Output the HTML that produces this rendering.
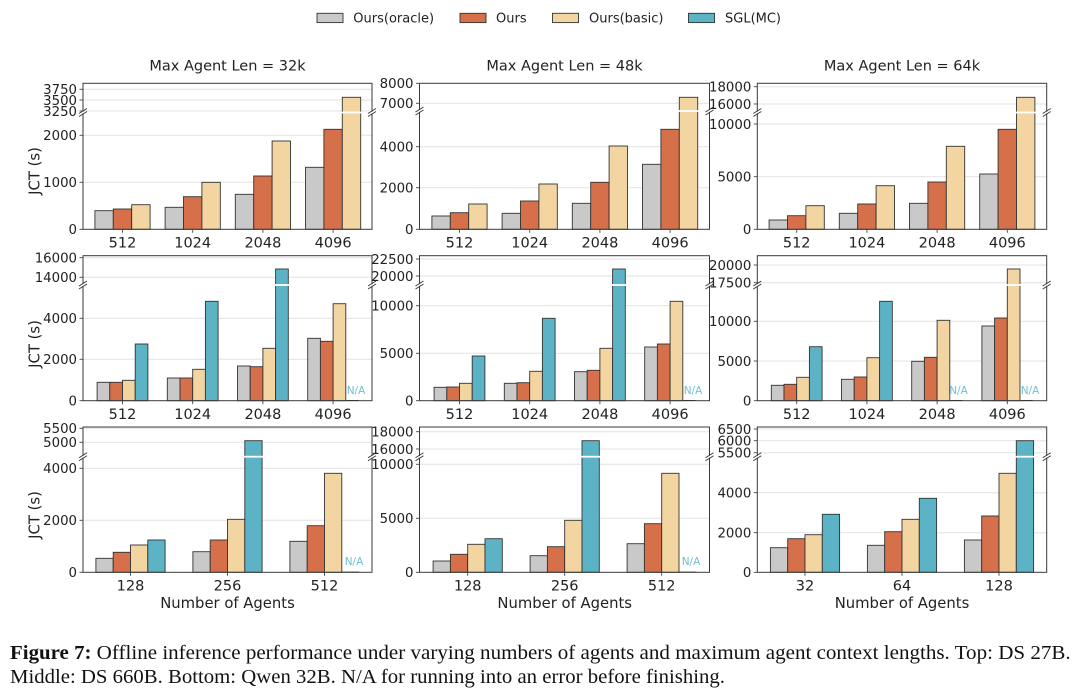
<!DOCTYPE html>
<html><head><meta charset="utf-8"><style>
html,body{margin:0;padding:0;background:#fff;}
svg{display:block;}
text{font-family:"DejaVu Sans","Liberation Sans",sans-serif;fill:#222;}
.ty{font-size:13.3px;}
.tx{font-size:14.5px;}
.tt{font-size:14.5px;}
.xl{font-size:14.8px;}
.na{font-size:10.5px;fill:#6fc0d2;}
.cap{font-family:"Liberation Serif","DejaVu Serif",serif;font-size:19.5px;fill:#111;}
.b rect{stroke:#333;stroke-width:0.9;}
.G{fill:#c9c9c9;}.O{fill:#d6704a;}.T{fill:#f3d5a1;}.B{fill:#5cb3c5;}
.grid line{stroke:#e2e2e2;stroke-width:1;}
.fr{fill:none;stroke:#3a3a3a;stroke-width:1;}
.tk line{stroke:#444;stroke-width:0.9;}
.brk line{stroke:#333;stroke-width:0.9;}
</style></head><body>
<svg width="1080" height="691" viewBox="0 0 1080 691" xmlns="http://www.w3.org/2000/svg">
<rect x="0" y="0" width="1080" height="691" fill="#fff"/>

<!-- Legend -->
<g class="b">
<rect class="G" x="317" y="13.3" width="26" height="9.3"/>
<rect class="O" x="460" y="13.3" width="26" height="9.3"/>
<rect class="T" x="552.5" y="13.3" width="26" height="9.3"/>
<rect class="B" x="688.5" y="13.3" width="26" height="9.3"/>
</g>
<text x="353.3" y="22.5" style="font-size:13px">Ours(oracle)</text>
<text x="496" y="22.5" style="font-size:13px">Ours</text>
<text x="589" y="22.5" style="font-size:13px">Ours(basic)</text>
<text x="725" y="22.5" style="font-size:13px">SGL(MC)</text>

<!-- Titles -->
<text class="tt" x="227.5" y="70.5" text-anchor="middle">Max Agent Len = 32k</text>
<text class="tt" x="564.5" y="70.5" text-anchor="middle">Max Agent Len = 48k</text>
<text class="tt" x="902" y="70.5" text-anchor="middle">Max Agent Len = 64k</text>

<!-- Gridlines -->
<g class="grid">
<line x1="83" x2="372" y1="89.3" y2="89.3"/><line x1="83" x2="372" y1="100" y2="100"/><line x1="83" x2="372" y1="111" y2="111"/>
<line x1="83" x2="372" y1="135.3" y2="135.3"/><line x1="83" x2="372" y1="182.3" y2="182.3"/>
<line x1="419.5" x2="709.5" y1="103.3" y2="103.3"/>
<line x1="419.5" x2="709.5" y1="146.7" y2="146.7"/><line x1="419.5" x2="709.5" y1="187.7" y2="187.7"/>
<line x1="757.3" x2="1046.7" y1="86.7" y2="86.7"/><line x1="757.3" x2="1046.7" y1="104" y2="104"/>
<line x1="757.3" x2="1046.7" y1="124" y2="124"/><line x1="757.3" x2="1046.7" y1="176.7" y2="176.7"/>
<line x1="83" x2="372" y1="257.7" y2="257.7"/><line x1="83" x2="372" y1="277.3" y2="277.3"/>
<line x1="83" x2="372" y1="318.3" y2="318.3"/><line x1="83" x2="372" y1="359.3" y2="359.3"/>
<line x1="419.5" x2="709.5" y1="259" y2="259"/><line x1="419.5" x2="709.5" y1="276" y2="276"/>
<line x1="419.5" x2="709.5" y1="305.7" y2="305.7"/><line x1="419.5" x2="709.5" y1="353.3" y2="353.3"/>
<line x1="757.3" x2="1046.7" y1="265" y2="265"/><line x1="757.3" x2="1046.7" y1="282.7" y2="282.7"/>
<line x1="757.3" x2="1046.7" y1="321.3" y2="321.3"/><line x1="757.3" x2="1046.7" y1="361" y2="361"/>
<line x1="83" x2="372" y1="428.3" y2="428.3"/><line x1="83" x2="372" y1="442.3" y2="442.3"/>
<line x1="83" x2="372" y1="468.3" y2="468.3"/><line x1="83" x2="372" y1="520.3" y2="520.3"/>
<line x1="419.5" x2="709.5" y1="431.7" y2="431.7"/><line x1="419.5" x2="709.5" y1="449" y2="449"/>
<line x1="419.5" x2="709.5" y1="464.3" y2="464.3"/><line x1="419.5" x2="709.5" y1="518.3" y2="518.3"/>
<line x1="757.3" x2="1046.7" y1="429" y2="429"/><line x1="757.3" x2="1046.7" y1="440.7" y2="440.7"/><line x1="757.3" x2="1046.7" y1="452.7" y2="452.7"/>
<line x1="757.3" x2="1046.7" y1="492.7" y2="492.7"/><line x1="757.3" x2="1046.7" y1="532.7" y2="532.7"/>
</g>

<!-- Bars -->
<g class="b">
<rect class="G" x="94.9" y="210.7" width="18.4" height="18.6"/><rect class="O" x="113.3" y="209" width="18.4" height="20.3"/><rect class="T" x="131.7" y="204.7" width="18.4" height="24.6"/>
<rect class="G" x="165.1" y="207.3" width="18.4" height="22"/><rect class="O" x="183.5" y="196.7" width="18.4" height="32.6"/><rect class="T" x="201.9" y="182.3" width="18.4" height="47"/>
<rect class="G" x="235.3" y="194.3" width="18.4" height="35"/><rect class="O" x="253.7" y="176" width="18.4" height="53.3"/><rect class="T" x="272.1" y="141" width="18.4" height="88.3"/>
<rect class="G" x="305.5" y="167.3" width="18.4" height="62"/><rect class="O" x="323.9" y="129.3" width="18.4" height="100"/><rect class="T" x="342.3" y="97.3" width="18.4" height="132"/>
<rect class="G" x="431.9" y="216" width="18.4" height="13.3"/><rect class="O" x="450.3" y="212.7" width="18.4" height="16.6"/><rect class="T" x="468.7" y="204" width="18.4" height="25.3"/>
<rect class="G" x="502.1" y="213.3" width="18.4" height="16"/><rect class="O" x="520.5" y="201" width="18.4" height="28.3"/><rect class="T" x="538.9" y="184" width="18.4" height="45.3"/>
<rect class="G" x="572.3" y="203.3" width="18.4" height="26"/><rect class="O" x="590.7" y="182.3" width="18.4" height="47"/><rect class="T" x="609.1" y="146" width="18.4" height="83.3"/>
<rect class="G" x="642.5" y="164.3" width="18.4" height="65"/><rect class="O" x="660.9" y="129.3" width="18.4" height="100"/><rect class="T" x="679.3" y="97.3" width="18.4" height="132"/>
<rect class="G" x="769.1" y="220" width="18.4" height="9.3"/><rect class="O" x="787.5" y="215.7" width="18.4" height="13.6"/><rect class="T" x="805.9" y="205.7" width="18.4" height="23.6"/>
<rect class="G" x="839.3" y="213.3" width="18.4" height="16"/><rect class="O" x="857.7" y="204" width="18.4" height="25.3"/><rect class="T" x="876.1" y="185.7" width="18.4" height="43.6"/>
<rect class="G" x="909.5" y="203.3" width="18.4" height="26"/><rect class="O" x="927.9" y="182" width="18.4" height="47.3"/><rect class="T" x="946.3" y="146.3" width="18.4" height="83"/>
<rect class="G" x="979.7" y="174" width="18.4" height="55.3"/><rect class="O" x="998.1" y="129.3" width="18.4" height="100"/><rect class="T" x="1016.5" y="97.3" width="18.4" height="132"/>

<rect class="G" x="97.1" y="382.3" width="12.7" height="18.4"/><rect class="O" x="109.8" y="382.3" width="12.7" height="18.4"/><rect class="T" x="122.5" y="380.3" width="12.7" height="20.4"/><rect class="B" x="135.2" y="344" width="12.7" height="56.7"/>
<rect class="G" x="167.3" y="378" width="12.7" height="22.7"/><rect class="O" x="180" y="378" width="12.7" height="22.7"/><rect class="T" x="192.7" y="369.3" width="12.7" height="31.4"/><rect class="B" x="205.4" y="301.3" width="12.7" height="99.4"/>
<rect class="G" x="237.5" y="366" width="12.7" height="34.7"/><rect class="O" x="250.2" y="366.7" width="12.7" height="34"/><rect class="T" x="262.9" y="348.3" width="12.7" height="52.4"/><rect class="B" x="275.6" y="269" width="12.7" height="131.7"/>
<rect class="G" x="307.7" y="338.3" width="12.7" height="62.4"/><rect class="O" x="320.4" y="341.3" width="12.7" height="59.4"/><rect class="T" x="333.1" y="303.7" width="12.7" height="97"/>
<rect class="G" x="434.1" y="387.3" width="12.7" height="13.4"/><rect class="O" x="446.8" y="387" width="12.7" height="13.7"/><rect class="T" x="459.5" y="383.3" width="12.7" height="17.4"/><rect class="B" x="472.2" y="356" width="12.7" height="44.7"/>
<rect class="G" x="504.3" y="383.3" width="12.7" height="17.4"/><rect class="O" x="517" y="382.7" width="12.7" height="18"/><rect class="T" x="529.7" y="371.3" width="12.7" height="29.4"/><rect class="B" x="542.4" y="318.3" width="12.7" height="82.4"/>
<rect class="G" x="574.5" y="371.7" width="12.7" height="29"/><rect class="O" x="587.2" y="370.3" width="12.7" height="30.4"/><rect class="T" x="599.9" y="348.3" width="12.7" height="52.4"/><rect class="B" x="612.6" y="269" width="12.7" height="131.7"/>
<rect class="G" x="644.7" y="347" width="12.7" height="53.7"/><rect class="O" x="657.4" y="344" width="12.7" height="56.7"/><rect class="T" x="670.1" y="301.3" width="12.7" height="99.4"/>
<rect class="G" x="771.3" y="385.3" width="12.7" height="15.4"/><rect class="O" x="784" y="384.3" width="12.7" height="16.4"/><rect class="T" x="796.7" y="377.3" width="12.7" height="23.4"/><rect class="B" x="809.4" y="346.7" width="12.7" height="54"/>
<rect class="G" x="841.5" y="379.3" width="12.7" height="21.4"/><rect class="O" x="854.2" y="377" width="12.7" height="23.7"/><rect class="T" x="866.9" y="357.7" width="12.7" height="43"/><rect class="B" x="879.6" y="301.3" width="12.7" height="99.4"/>
<rect class="G" x="911.7" y="361.3" width="12.7" height="39.4"/><rect class="O" x="924.4" y="357.3" width="12.7" height="43.4"/><rect class="T" x="937.1" y="320.3" width="12.7" height="80.4"/>
<rect class="G" x="981.9" y="326" width="12.7" height="74.7"/><rect class="O" x="994.6" y="318" width="12.7" height="82.7"/><rect class="T" x="1007.3" y="269" width="12.7" height="131.7"/>

<rect class="G" x="95.9" y="558.3" width="17.3" height="14"/><rect class="O" x="113.2" y="552.3" width="17.3" height="20"/><rect class="T" x="130.5" y="545" width="17.3" height="27.3"/><rect class="B" x="147.8" y="540" width="17.3" height="32.3"/>
<rect class="G" x="192.9" y="551.7" width="17.3" height="20.6"/><rect class="O" x="210.2" y="540" width="17.3" height="32.3"/><rect class="T" x="227.5" y="519.3" width="17.3" height="53"/><rect class="B" x="244.8" y="440.7" width="17.3" height="131.6"/>
<rect class="G" x="289.9" y="541.3" width="17.3" height="31"/><rect class="O" x="307.2" y="525.7" width="17.3" height="46.6"/><rect class="T" x="324.5" y="473.3" width="17.3" height="99"/>
<rect class="G" x="433.1" y="561" width="17.3" height="11.3"/><rect class="O" x="450.4" y="554.3" width="17.3" height="18"/><rect class="T" x="467.7" y="544.3" width="17.3" height="28"/><rect class="B" x="485" y="538.7" width="17.3" height="33.6"/>
<rect class="G" x="530.1" y="555.7" width="17.3" height="16.6"/><rect class="O" x="547.4" y="546.7" width="17.3" height="25.6"/><rect class="T" x="564.7" y="520.3" width="17.3" height="52"/><rect class="B" x="582" y="440.7" width="17.3" height="131.6"/>
<rect class="G" x="627.1" y="543.7" width="17.3" height="28.6"/><rect class="O" x="644.4" y="523.7" width="17.3" height="48.6"/><rect class="T" x="661.7" y="473.3" width="17.3" height="99"/>
<rect class="G" x="770.4" y="547.7" width="17.3" height="24.6"/><rect class="O" x="787.7" y="538.7" width="17.3" height="33.6"/><rect class="T" x="805" y="534.7" width="17.3" height="37.6"/><rect class="B" x="822.3" y="514.3" width="17.3" height="58"/>
<rect class="G" x="867.4" y="545.3" width="17.3" height="27"/><rect class="O" x="884.7" y="531.7" width="17.3" height="40.6"/><rect class="T" x="902" y="519.3" width="17.3" height="53"/><rect class="B" x="919.3" y="498.3" width="17.3" height="74"/>
<rect class="G" x="964.4" y="540" width="17.3" height="32.3"/><rect class="O" x="981.7" y="516" width="17.3" height="56.3"/><rect class="T" x="999" y="473.3" width="17.3" height="99"/><rect class="B" x="1016.3" y="440.7" width="17.3" height="131.6"/>
</g>

<g stroke="#333" stroke-width="1">
<line x1="345.8" x2="358.5" y1="400.5" y2="400.5"/>
<line x1="682.8" x2="695.5" y1="400.5" y2="400.5"/>
<line x1="949.8" x2="962.5" y1="400.5" y2="400.5"/>
<line x1="1020" x2="1032.7" y1="400.5" y2="400.5"/>
<line x1="341.8" x2="359.1" y1="572.1" y2="572.1"/>
<line x1="679" x2="696.3" y1="572.1" y2="572.1"/>
</g>

<text class="na" x="356" y="394" text-anchor="middle">N/A</text>
<text class="na" x="693" y="394" text-anchor="middle">N/A</text>
<text class="na" x="958.5" y="394" text-anchor="middle">N/A</text>
<text class="na" x="1030" y="394" text-anchor="middle">N/A</text>
<text class="na" x="354" y="565" text-anchor="middle">N/A</text>
<text class="na" x="691" y="565" text-anchor="middle">N/A</text>

<!-- Frames -->
<rect class="fr" x="83" y="83.3" width="289" height="146"/>
<rect class="fr" x="419.5" y="83.3" width="290" height="146"/>
<rect class="fr" x="757.3" y="83.3" width="289.4" height="146"/>
<rect class="fr" x="83" y="255.7" width="289" height="145"/>
<rect class="fr" x="419.5" y="255.7" width="290" height="145"/>
<rect class="fr" x="757.3" y="255.7" width="289.4" height="145"/>
<rect class="fr" x="83" y="427" width="289" height="145.3"/>
<rect class="fr" x="419.5" y="427" width="290" height="145.3"/>
<rect class="fr" x="757.3" y="427" width="289.4" height="145.3"/>

<g fill="#fff">
<rect x="82" y="111.6" width="291" height="1.8"/>
<rect x="418.5" y="110.1" width="292" height="1.8"/>
<rect x="756.3" y="111.6" width="291.4" height="1.8"/>
<rect x="82" y="284.1" width="291" height="1.8"/>
<rect x="418.5" y="284.1" width="292" height="1.8"/>
<rect x="756.3" y="284.1" width="291.4" height="1.8"/>
<rect x="82" y="455.8" width="291" height="1.8"/>
<rect x="418.5" y="455.8" width="292" height="1.8"/>
<rect x="756.3" y="455.8" width="291.4" height="1.8"/>
</g>
<g class="brk">
<line x1="79" y1="113.5" x2="87" y2="108.5"/><line x1="79" y1="116.5" x2="87" y2="111.5"/>
<line x1="368" y1="113.5" x2="376" y2="108.5"/><line x1="368" y1="116.5" x2="376" y2="111.5"/>
<line x1="415.5" y1="112" x2="423.5" y2="107"/><line x1="415.5" y1="115" x2="423.5" y2="110"/>
<line x1="705.5" y1="112" x2="713.5" y2="107"/><line x1="705.5" y1="115" x2="713.5" y2="110"/>
<line x1="753.3" y1="113.5" x2="761.3" y2="108.5"/><line x1="753.3" y1="116.5" x2="761.3" y2="111.5"/>
<line x1="1042.7" y1="113.5" x2="1050.7" y2="108.5"/><line x1="1042.7" y1="116.5" x2="1050.7" y2="111.5"/>
<line x1="79" y1="286" x2="87" y2="281"/><line x1="79" y1="289" x2="87" y2="284"/>
<line x1="368" y1="286" x2="376" y2="281"/><line x1="368" y1="289" x2="376" y2="284"/>
<line x1="415.5" y1="286" x2="423.5" y2="281"/><line x1="415.5" y1="289" x2="423.5" y2="284"/>
<line x1="705.5" y1="286" x2="713.5" y2="281"/><line x1="705.5" y1="289" x2="713.5" y2="284"/>
<line x1="753.3" y1="286" x2="761.3" y2="281"/><line x1="753.3" y1="289" x2="761.3" y2="284"/>
<line x1="1042.7" y1="286" x2="1050.7" y2="281"/><line x1="1042.7" y1="289" x2="1050.7" y2="284"/>
<line x1="79" y1="457.7" x2="87" y2="452.7"/><line x1="79" y1="460.7" x2="87" y2="455.7"/>
<line x1="368" y1="457.7" x2="376" y2="452.7"/><line x1="368" y1="460.7" x2="376" y2="455.7"/>
<line x1="415.5" y1="457.7" x2="423.5" y2="452.7"/><line x1="415.5" y1="460.7" x2="423.5" y2="455.7"/>
<line x1="705.5" y1="457.7" x2="713.5" y2="452.7"/><line x1="705.5" y1="460.7" x2="713.5" y2="455.7"/>
<line x1="753.3" y1="457.7" x2="761.3" y2="452.7"/><line x1="753.3" y1="460.7" x2="761.3" y2="455.7"/>
<line x1="1042.7" y1="457.7" x2="1050.7" y2="452.7"/><line x1="1042.7" y1="460.7" x2="1050.7" y2="455.7"/>
</g>

<g class="tk">
<line x1="122.5" x2="122.5" y1="229.3" y2="232.8"/><line x1="192.7" x2="192.7" y1="229.3" y2="232.8"/><line x1="262.9" x2="262.9" y1="229.3" y2="232.8"/><line x1="333.1" x2="333.1" y1="229.3" y2="232.8"/>
<line x1="459.5" x2="459.5" y1="229.3" y2="232.8"/><line x1="529.7" x2="529.7" y1="229.3" y2="232.8"/><line x1="599.9" x2="599.9" y1="229.3" y2="232.8"/><line x1="670.1" x2="670.1" y1="229.3" y2="232.8"/>
<line x1="796.7" x2="796.7" y1="229.3" y2="232.8"/><line x1="866.9" x2="866.9" y1="229.3" y2="232.8"/><line x1="937.1" x2="937.1" y1="229.3" y2="232.8"/><line x1="1007.3" x2="1007.3" y1="229.3" y2="232.8"/>
<line x1="122.5" x2="122.5" y1="400.7" y2="404.2"/><line x1="192.7" x2="192.7" y1="400.7" y2="404.2"/><line x1="262.9" x2="262.9" y1="400.7" y2="404.2"/><line x1="333.1" x2="333.1" y1="400.7" y2="404.2"/>
<line x1="459.5" x2="459.5" y1="400.7" y2="404.2"/><line x1="529.7" x2="529.7" y1="400.7" y2="404.2"/><line x1="599.9" x2="599.9" y1="400.7" y2="404.2"/><line x1="670.1" x2="670.1" y1="400.7" y2="404.2"/>
<line x1="796.7" x2="796.7" y1="400.7" y2="404.2"/><line x1="866.9" x2="866.9" y1="400.7" y2="404.2"/><line x1="937.1" x2="937.1" y1="400.7" y2="404.2"/><line x1="1007.3" x2="1007.3" y1="400.7" y2="404.2"/>
<line x1="130.5" x2="130.5" y1="572.3" y2="575.8"/><line x1="227.5" x2="227.5" y1="572.3" y2="575.8"/><line x1="324.5" x2="324.5" y1="572.3" y2="575.8"/>
<line x1="467.7" x2="467.7" y1="572.3" y2="575.8"/><line x1="564.7" x2="564.7" y1="572.3" y2="575.8"/><line x1="661.7" x2="661.7" y1="572.3" y2="575.8"/>
<line x1="805" x2="805" y1="572.3" y2="575.8"/><line x1="902" x2="902" y1="572.3" y2="575.8"/><line x1="999" x2="999" y1="572.3" y2="575.8"/>
<line x1="79.5" x2="83" y1="89.3" y2="89.3"/><line x1="79.5" x2="83" y1="100" y2="100"/><line x1="79.5" x2="83" y1="111" y2="111"/><line x1="79.5" x2="83" y1="135.3" y2="135.3"/><line x1="79.5" x2="83" y1="182.3" y2="182.3"/><line x1="79.5" x2="83" y1="229.3" y2="229.3"/>
<line x1="416" x2="419.5" y1="83.3" y2="83.3"/><line x1="416" x2="419.5" y1="103.3" y2="103.3"/><line x1="416" x2="419.5" y1="146.7" y2="146.7"/><line x1="416" x2="419.5" y1="187.7" y2="187.7"/><line x1="416" x2="419.5" y1="229.3" y2="229.3"/>
<line x1="753.8" x2="757.3" y1="86.7" y2="86.7"/><line x1="753.8" x2="757.3" y1="104" y2="104"/><line x1="753.8" x2="757.3" y1="124" y2="124"/><line x1="753.8" x2="757.3" y1="176.7" y2="176.7"/><line x1="753.8" x2="757.3" y1="229.3" y2="229.3"/>
<line x1="79.5" x2="83" y1="257.7" y2="257.7"/><line x1="79.5" x2="83" y1="277.3" y2="277.3"/><line x1="79.5" x2="83" y1="318.3" y2="318.3"/><line x1="79.5" x2="83" y1="359.3" y2="359.3"/><line x1="79.5" x2="83" y1="400.7" y2="400.7"/>
<line x1="416" x2="419.5" y1="259" y2="259"/><line x1="416" x2="419.5" y1="276" y2="276"/><line x1="416" x2="419.5" y1="305.7" y2="305.7"/><line x1="416" x2="419.5" y1="353.3" y2="353.3"/><line x1="416" x2="419.5" y1="400.7" y2="400.7"/>
<line x1="753.8" x2="757.3" y1="265" y2="265"/><line x1="753.8" x2="757.3" y1="282.7" y2="282.7"/><line x1="753.8" x2="757.3" y1="321.3" y2="321.3"/><line x1="753.8" x2="757.3" y1="361" y2="361"/><line x1="753.8" x2="757.3" y1="400.7" y2="400.7"/>
<line x1="79.5" x2="83" y1="428.3" y2="428.3"/><line x1="79.5" x2="83" y1="442.3" y2="442.3"/><line x1="79.5" x2="83" y1="468.3" y2="468.3"/><line x1="79.5" x2="83" y1="520.3" y2="520.3"/><line x1="79.5" x2="83" y1="572.3" y2="572.3"/>
<line x1="416" x2="419.5" y1="431.7" y2="431.7"/><line x1="416" x2="419.5" y1="449" y2="449"/><line x1="416" x2="419.5" y1="464.3" y2="464.3"/><line x1="416" x2="419.5" y1="518.3" y2="518.3"/><line x1="416" x2="419.5" y1="572.3" y2="572.3"/>
<line x1="753.8" x2="757.3" y1="429" y2="429"/><line x1="753.8" x2="757.3" y1="440.7" y2="440.7"/><line x1="753.8" x2="757.3" y1="452.7" y2="452.7"/><line x1="753.8" x2="757.3" y1="492.7" y2="492.7"/><line x1="753.8" x2="757.3" y1="532.7" y2="532.7"/><line x1="753.8" x2="757.3" y1="572.3" y2="572.3"/>
</g>

<!-- Y tick labels -->
<g class="ty" text-anchor="end" transform="translate(0,0.35)">
<text x="77" y="93.8">3750</text><text x="77" y="104.5">3500</text><text x="77" y="115.5">3250</text>
<text x="77" y="139.8">2000</text><text x="77" y="186.8">1000</text><text x="77" y="233.8">0</text>
<text x="413.5" y="87.8">8000</text><text x="413.5" y="107.8">7000</text>
<text x="413.5" y="151.2">4000</text><text x="413.5" y="192.2">2000</text><text x="413.5" y="233.8">0</text>
<text x="751.3" y="91.2">18000</text><text x="751.3" y="108.5">16000</text>
<text x="751.3" y="128.5">10000</text><text x="751.3" y="181.2">5000</text><text x="751.3" y="233.8">0</text>
<text x="77" y="262.2">16000</text><text x="77" y="281.8">14000</text>
<text x="77" y="322.8">4000</text><text x="77" y="363.8">2000</text><text x="77" y="405.2">0</text>
<text x="413.5" y="263.5">22500</text><text x="413.5" y="280.5">20000</text>
<text x="413.5" y="310.2">10000</text><text x="413.5" y="357.8">5000</text><text x="413.5" y="405.2">0</text>
<text x="751.3" y="269.5">20000</text><text x="751.3" y="287.2">17500</text>
<text x="751.3" y="325.8">10000</text><text x="751.3" y="365.5">5000</text><text x="751.3" y="405.2">0</text>
<text x="77" y="432.8">5500</text><text x="77" y="446.8">5000</text>
<text x="77" y="472.8">4000</text><text x="77" y="524.8">2000</text><text x="77" y="576.8">0</text>
<text x="413.5" y="436.2">18000</text><text x="413.5" y="453.5">16000</text>
<text x="413.5" y="468.8">10000</text><text x="413.5" y="522.8">5000</text><text x="413.5" y="576.8">0</text>
<text x="751.3" y="433.5">6500</text><text x="751.3" y="445.2">6000</text><text x="751.3" y="457.2">5500</text>
<text x="751.3" y="497.2">4000</text><text x="751.3" y="537.2">2000</text><text x="751.3" y="576.8">0</text>
</g>

<!-- X tick labels -->
<g class="tx" text-anchor="middle" transform="translate(0,0.8)">
<text x="122.5" y="246.5">512</text><text x="192.7" y="246.5">1024</text><text x="262.9" y="246.5">2048</text><text x="333.1" y="246.5">4096</text>
<text x="459.5" y="246.5">512</text><text x="529.7" y="246.5">1024</text><text x="599.9" y="246.5">2048</text><text x="670.1" y="246.5">4096</text>
<text x="796.7" y="246.5">512</text><text x="866.9" y="246.5">1024</text><text x="937.1" y="246.5">2048</text><text x="1007.3" y="246.5">4096</text>
<text x="122.5" y="418">512</text><text x="192.7" y="418">1024</text><text x="262.9" y="418">2048</text><text x="333.1" y="418">4096</text>
<text x="459.5" y="418">512</text><text x="529.7" y="418">1024</text><text x="599.9" y="418">2048</text><text x="670.1" y="418">4096</text>
<text x="796.7" y="418">512</text><text x="866.9" y="418">1024</text><text x="937.1" y="418">2048</text><text x="1007.3" y="418">4096</text>
<text x="130.5" y="589.5">128</text><text x="227.5" y="589.5">256</text><text x="324.5" y="589.5">512</text>
<text x="467.7" y="589.5">128</text><text x="564.7" y="589.5">256</text><text x="661.7" y="589.5">512</text>
<text x="805" y="589.5">32</text><text x="902" y="589.5">64</text><text x="999" y="589.5">128</text>
</g>

<!-- Axis labels -->
<text class="xl" x="227.5" y="608" text-anchor="middle">Number of Agents</text>
<text class="xl" x="564.7" y="608" text-anchor="middle">Number of Agents</text>
<text class="xl" x="902" y="608" text-anchor="middle">Number of Agents</text>
<text class="xl" transform="translate(39.5,171) rotate(-90)" text-anchor="middle">JCT (s)</text>
<text class="xl" transform="translate(39.5,344) rotate(-90)" text-anchor="middle">JCT (s)</text>
<text class="xl" transform="translate(39.5,515) rotate(-90)" text-anchor="middle">JCT (s)</text>

<!-- Caption -->
<text class="cap" x="10" y="659" style="font-weight:bold" textLength="81.5" lengthAdjust="spacingAndGlyphs">Figure 7:</text>
<text class="cap" x="96.7" y="659" textLength="974" lengthAdjust="spacingAndGlyphs">Offline inference performance under varying numbers of agents and maximum agent context lengths. Top: DS 27B.</text>
<text class="cap" x="10" y="683" textLength="715" lengthAdjust="spacingAndGlyphs">Middle: DS 660B. Bottom: Qwen 32B. N/A for running into an error before finishing.</text>
</svg>
</body></html>
